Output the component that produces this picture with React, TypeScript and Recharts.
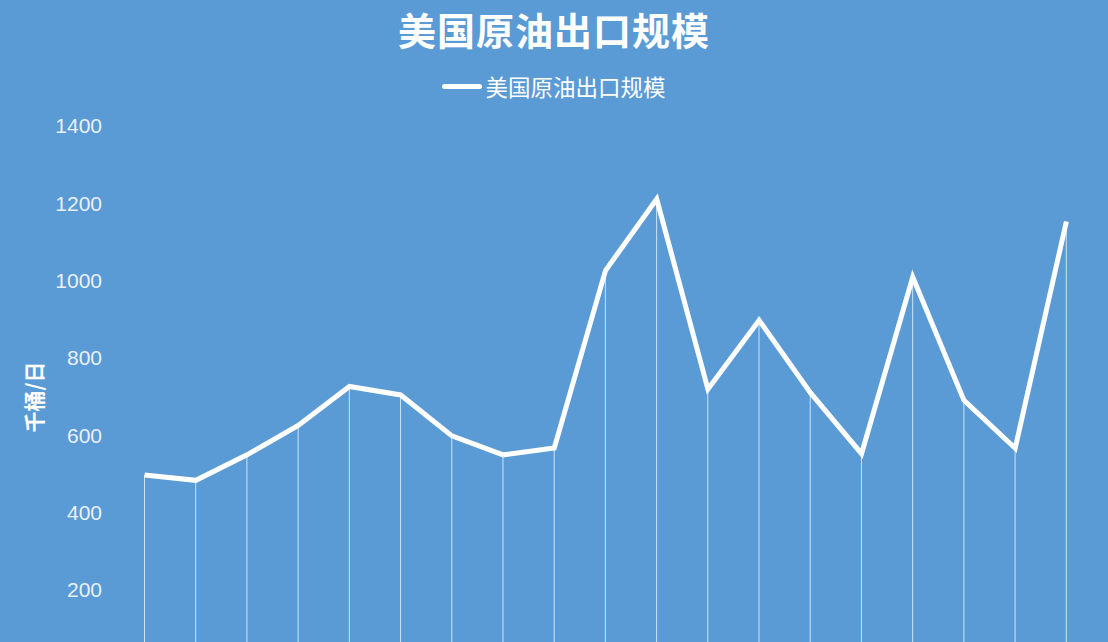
import {
  ComposedChart,
  Bar,
  Line,
  XAxis,
  YAxis,
} from "recharts";

const months = [
  "1", "2", "3", "4", "5", "6", "7", "8", "9", "10",
  "11", "12", "13", "14", "15", "16", "17", "18", "19",
];
const exports = [
  497, 483, 549, 625, 726, 704, 598, 549, 567, 1026,
  1211, 719, 897, 710, 552, 1009, 690, 566, 1153,
];
const yTicks = [200, 400, 600, 800, 1000, 1200, 1400];

const TITLE = "美国原油出口规模";
const BG = "#5B9BD5";
const CJK = '"Noto Sans CJK SC", "Noto Sans", sans-serif';

const data = months.map((m, i) => ({ month: m, value: exports[i] }));

function AxisTitle() {
  return (
    <text
      x={33}
      y={397}
      transform="rotate(-90, 33, 397)"
      textAnchor="middle"
      dominantBaseline="central"
      fill="#ffffff"
      fontSize={21}
      fontWeight={700}
      fontFamily={CJK}
    >
      千桶/日
    </text>
  );
}

export default function App() {
  return (
    <div
      style={{
        position: "fixed",
        left: 0,
        top: 0,
        width: 1108,
        height: 642,
        overflow: "hidden",
        background: BG,
      }}
    >
      <div
        style={{
          position: "absolute",
          top: 1,
          width: 1108,
          textAlign: "center",
          color: "#fff",
          fontFamily: CJK,
          fontWeight: 700,
          fontSize: 38,
          letterSpacing: 1,
        }}
      >
        {TITLE}
      </div>
      <div
        style={{
          position: "absolute",
          top: 70,
          width: 1108,
          display: "flex",
          justifyContent: "center",
          alignItems: "center",
          color: "#fff",
          fontFamily: CJK,
          fontSize: 22.5,
        }}
      >
        <span
          style={{
            display: "inline-block",
            width: 40,
            height: 5,
            borderRadius: 3,
            background: "#fff",
            marginRight: 3,
          }}
        />
        {TITLE}
      </div>
      <ComposedChart
        width={1108}
        height={700}
        data={data}
        margin={{ top: 126, right: 16, bottom: 33, left: 0 }}
      >
        <XAxis dataKey="month" hide />
        <YAxis
          width={119}
          domain={[0, 1400]}
          ticks={yTicks}
          axisLine={false}
          tickLine={false}
          tickSize={0}
          tickMargin={17}
          tick={{
            fill: "rgba(255,255,255,0.88)",
            fontSize: 21,
            fontFamily: '"Liberation Sans", Arial, sans-serif',
          }}
          label={<AxisTitle />}
        />
        <Bar
          dataKey="value"
          barSize={1}
          fill="rgba(255,255,255,0.7)"
          isAnimationActive={false}
        />
        <Line
          dataKey="value"
          stroke="#ffffff"
          strokeWidth={5}
          dot={false}
          activeDot={false}
          type="linear"
          isAnimationActive={false}
        />
      </ComposedChart>
    </div>
  );
}
